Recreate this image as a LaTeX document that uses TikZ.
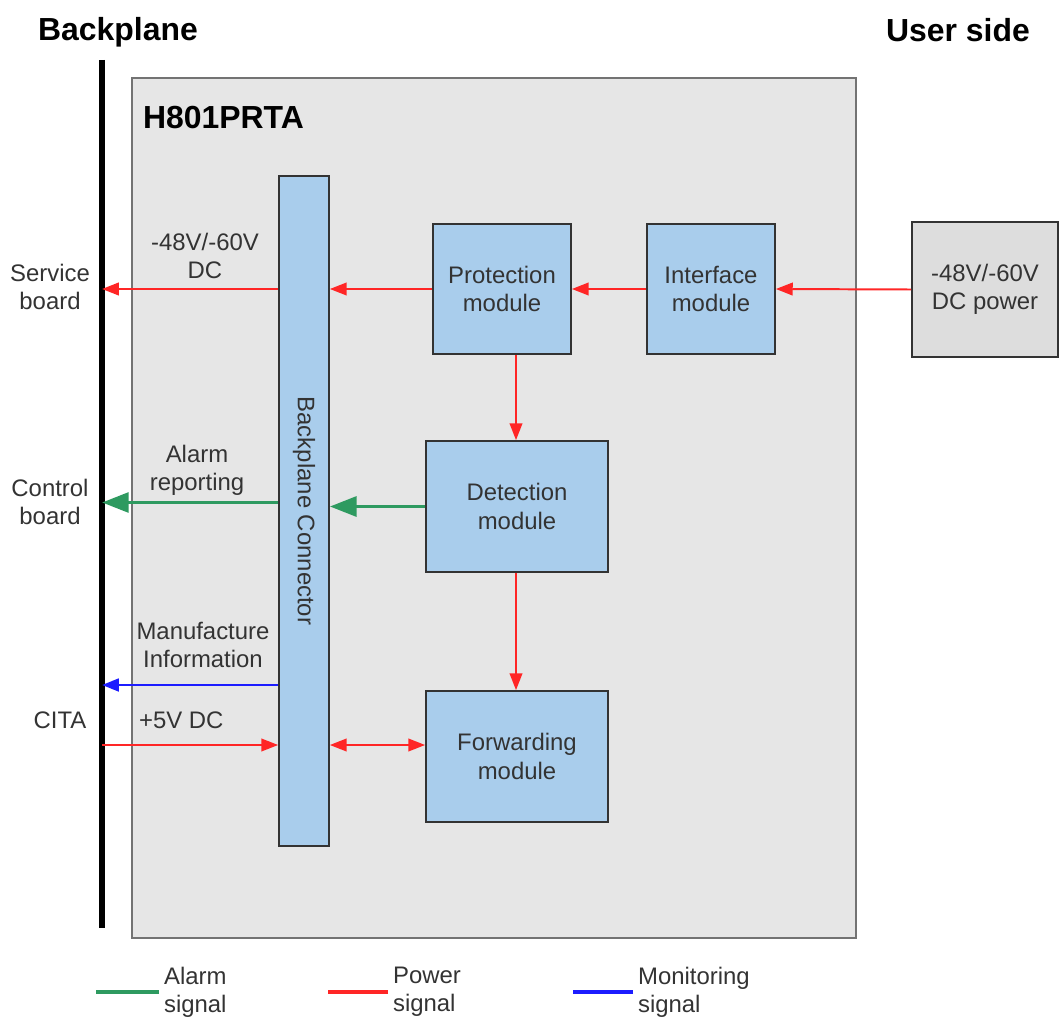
\documentclass[tikz,border=0pt]{standalone}
\usepackage{fontspec}
\setmainfont{Liberation Sans}
\usetikzlibrary{arrows.meta,positioning}
\definecolor{boxblue}{HTML}{A9CDEC}
\definecolor{cardgray}{HTML}{E6E6E6}
\definecolor{srcgray}{HTML}{DDDDDD}
\definecolor{pwrred}{HTML}{FF2626}
\definecolor{almgreen}{HTML}{2E9A60}
\definecolor{monblue}{HTML}{1C1CFF}
\definecolor{txtgray}{HTML}{333333}
\begin{document}
\begin{tikzpicture}[x=0.025cm, y=-0.025cm, line width=0.6pt,
  font=\fontsize{17}{20}\selectfont, text=txtgray,
  module/.style={draw=black!80, fill=boxblue, line width=1.2pt, align=center, inner sep=0pt},
  title/.style={font=\bfseries\fontsize{22.7}{26}\selectfont, text=black},
  lbl/.style={align=center},
  pwr/.style={draw=pwrred, line width=1.4pt, -{Triangle[length=12pt,width=9pt]}},
  alm/.style={draw=almgreen, line width=2.8pt, -{Triangle[length=19pt,width=14pt]}},
  mon/.style={draw=monblue, line width=2pt, -{Triangle[length=12pt,width=9pt]}}]
  \useasboundingbox (0,0) rectangle (1059,1017);
  % board and backplane
  \node[draw=black!55, fill=cardgray, line width=1.2pt, minimum width=18.1cm, minimum height=21.5cm] (card) at (494,508) {};
  \coordinate (bpTop) at (102,60);
  \coordinate (bpBot) at (102,928);
  \draw[line width=3.6pt] (bpTop) -- (bpBot);
  \node[title] (bptitle) at (118,32) {Backplane};
  \node[title] (usertitle) at (958,30) {User side};
  \node[title, anchor=west] (cardname) at (138,118) {H801PRTA};
  % modules
  \node[module, minimum width=1.25cm, minimum height=16.75cm] (conn) at (304,511)
    {\rotatebox{-90}{Backplane Connector}};
  \node[module, minimum width=3.45cm, minimum height=3.25cm] (prot) at (502,289) {Protection\\module};
  \node[module, minimum width=3.2cm, minimum height=3.25cm] (iface) at (711,289) {Interface\\module};
  \node[module, minimum width=4.55cm, minimum height=3.275cm] (det) at (517,506.5) {Detection\\module};
  \node[module, minimum width=4.55cm, minimum height=3.275cm] (fwd) at (517,756.5) {Forwarding\\module};
  \node[draw=black!80, fill=srcgray, line width=1.2pt, align=center, minimum width=3.65cm, minimum height=3.375cm] (dcsrc) at (985,289.5) {-48V/-60V\\DC power};
  % boards on the backplane
  \node[lbl] (svc) at (50,287) {Service\\board};
  \node[lbl] (ctrl) at (50,502) {Control\\board};
  \node[lbl] (cita) at (60,720) {CITA};
  \coordinate (mfgy) at (0,685);
  \coordinate (pwry) at (0,745);
  % power path
  \draw[pwr] (dcsrc.west) -- (iface.east);
  \draw[pwr] (iface.west) -- (prot.east);
  \draw[pwr] (prot.west) -- (conn.east |- prot.west);
  \draw[pwr] (conn.west |- prot.west) -- (bpTop |- prot.west);
  \draw[pwr] (prot.south -| 516,0) -- (det.north -| 516,0);
  \draw[pwr] (det.south -| 516,0) -- (fwd.north -| 516,0);
  \draw[pwr] (bpTop |- pwry) -- (conn.west |- pwry);
  \draw[pwr, {Triangle[length=12pt,width=9pt]}-{Triangle[length=12pt,width=9pt]}] (conn.east |- pwry) -- (fwd.west |- pwry);
  % alarm and monitoring
  \draw[alm] (det.west) -- (conn.east |- det.west);
  \draw[alm] ([yshift=0.1cm]conn.west |- det.west) -- ([yshift=0.1cm]bpTop |- det.west);
  \draw[mon] (conn.west |- mfgy) -- (bpTop |- mfgy);
  \node[lbl] (pwrtxt) at (205,256) {-48V/-60V\\DC};
  \node[lbl] (almtxt) at (197,470) {Alarm\\reporting};
  \node[lbl] (mfgtxt) at (203,645) {Manufacture\\Information};
  \node[anchor=west] (fivev) at (134,720) {+5V DC};
  % legend
  \node[anchor=west, align=left] (lgA) at (159,992) {Alarm\\signal};
  \node[anchor=west, align=left] (lgP) at (388,992) {Power\\signal};
  \node[anchor=west, align=left] (lgM) at (633,992) {Monitoring\\signal};
  \draw[draw=almgreen, line width=2.8pt] (lgA.west) -- ++(-63,0);
  \draw[draw=pwrred, line width=2.8pt] (lgP.west) -- ++(-60,0);
  \draw[draw=monblue, line width=2.8pt] (lgM.west) -- ++(-60,0);
\end{tikzpicture}
\end{document}
